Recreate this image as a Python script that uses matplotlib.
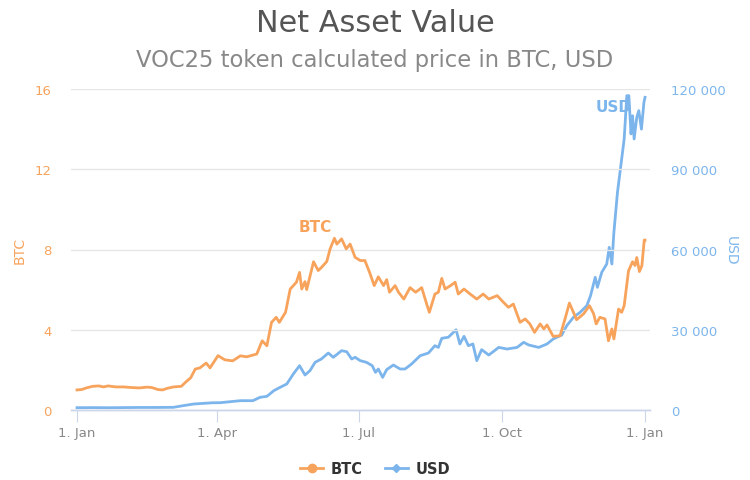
import matplotlib
matplotlib.use("Agg")
import matplotlib.pyplot as plt
from matplotlib.lines import Line2D
import pandas as pd

start_date = "2017-01-01"

# BTC series: day offset from start_date, value in BTC
btc_days = [0, 3, 6, 10, 14, 17, 20, 25, 30, 35, 40, 45, 48, 52, 55, 58, 62, 67, 70, 73, 76, 79, 83, 85.5,
            90.6, 95, 100, 105, 109, 115.5, 119, 122, 125, 128, 130, 134, 137, 141, 143, 144.4, 146.5, 147.6,
            152, 155, 157, 160.5, 162.6, 165.4, 167, 170, 173, 175.5, 178.7, 182, 185, 188, 191, 193.6, 197,
            199, 200.8, 204.4, 206.6, 210, 214, 217.6, 221.5, 224.7, 226.4, 230, 232.2, 234.4, 236.5, 240,
            243, 245, 248.7, 252.6, 256.9, 261, 264.6, 270, 274, 277.2, 280.4, 284.7, 288, 291, 294, 297.6,
            300, 302, 306, 310.4, 313.6, 316.4, 319, 321, 325.5, 329.3, 332, 333.6, 336, 339.3, 341.5, 343.7,
            345, 348, 350, 351.6, 354.4, 357, 358.6, 359.7, 361.4, 363, 364.5, 365]
btc_values = [1.0, 1.02, 1.1, 1.18, 1.2, 1.15, 1.2, 1.15, 1.15, 1.12, 1.1, 1.14, 1.12, 1.02, 1.0, 1.08, 1.15,
              1.18, 1.4, 1.6, 2.04, 2.1, 2.34, 2.1,
              2.71, 2.5, 2.45, 2.7, 2.65, 2.79, 3.45, 3.2, 4.37, 4.62, 4.37, 4.87, 6.03, 6.37, 6.86, 6.03, 6.4,
              6.0, 7.39, 6.95, 7.1, 7.4, 8.02, 8.56, 8.27, 8.53, 8.03, 8.27, 7.61, 7.45, 7.45, 6.86, 6.2, 6.64,
              6.2, 6.5, 5.87, 6.2, 5.87, 5.53, 6.1, 5.87, 6.1, 5.28, 4.87, 5.78, 5.87, 6.56, 6.03, 6.2, 6.37,
              5.78, 6.03, 5.78, 5.53, 5.78, 5.53, 5.7, 5.37, 5.12, 5.28, 4.37, 4.54, 4.29, 3.87, 4.29, 4.04,
              4.24, 3.67, 3.7, 4.54, 5.33, 4.87, 4.5, 4.79, 5.2, 4.79, 4.29, 4.62, 4.54, 3.45, 4.04, 3.54, 5.03,
              4.87, 5.2, 6.94, 7.39, 7.2, 7.6, 6.9, 7.2, 8.47, 8.47]

# USD series: day offset from start_date, value in USD
usd_days = [0, 10, 20, 30, 40, 50, 62, 68, 75, 87, 92, 105, 113, 117.6, 122, 126.5, 130.5, 134.8, 139, 143,
            146.5, 149.7, 153, 157, 161.5, 164.7, 170, 173.3, 176.5, 178.7, 182, 186, 189.7, 191.8, 193.6,
            196.4, 199, 203.3, 207.6, 210.8, 215, 220.5, 225.8, 230, 232.2, 234.4, 238.6, 243.6, 246, 248.7,
            251.5, 254.4, 256.9, 260, 264.6, 271, 276.4, 282.8, 287, 290.3, 296.7, 302, 306, 311.5, 314.7,
            319, 323.3, 327.6, 330, 333, 334.4, 337.2, 340.4, 342, 343.7, 345, 347.3, 350, 351.6, 353.3,
            354.6, 356, 357, 358, 359.7, 361, 362.7, 364.3, 365]
usd_values = [860, 900, 850, 900, 950, 950, 1000, 1600, 2240, 2700, 2730, 3480, 3480, 4740, 5100, 7230, 8470,
              9720, 13460, 16570, 13080, 14700, 17830, 19060, 21300, 19700, 22170, 21800, 19060, 19700, 18440,
              17830, 16570, 14080, 15330, 12200, 15100, 16820, 15330, 15330, 17200, 20300, 21300, 24040, 23400,
              26800, 27200, 30000, 24670, 27540, 24040, 24670, 18440, 22560, 20550, 23400, 22800, 23400, 25300,
              24300, 23400, 24670, 26540, 28040, 31520, 34650, 36520, 39000, 42740, 49600, 45860, 51470, 54580,
              60820, 54580, 66430, 81380, 93830, 101300, 117500, 117500, 103200, 110000, 101300, 109400, 111900,
              105000, 115000, 116900]

btc_ticks = [0, 4, 8, 12, 16]
usd_ticks = [0, 30000, 60000, 90000, 120000]
x_tick_dates = ["2017-01-01", "2017-04-01", "2017-07-01", "2017-10-01", "2018-01-01"]
x_tick_labels = ["1. Jan", "1. Apr", "1. Jul", "1. Oct", "1. Jan"]

ORANGE = "#f7a35c"
BLUE = "#7cb5ec"
GRID = "#e6e6e6"
AXIS = "#ccd6eb"

plt.rcParams['font.family'] = ['DejaVu Sans']

t0 = pd.Timestamp(start_date)
btc_x = t0 + pd.to_timedelta(btc_days, unit="D")
usd_x = t0 + pd.to_timedelta(usd_days, unit="D")

fig = plt.figure(figsize=(7.5, 4.81), dpi=100)
ax = fig.add_axes([71 / 750, 70 / 481, 579 / 750, 321 / 481])
ax2 = ax.twinx()

ax2.plot(usd_x, usd_values, color=BLUE, lw=2.0, solid_joinstyle="round", zorder=3)
ax.plot(btc_x, btc_values, color=ORANGE, lw=2.0, solid_joinstyle="round", zorder=3)
ax.set_zorder(ax2.get_zorder() + 1)
ax.patch.set_visible(False)

ax.set_xlim(t0 - pd.Timedelta(days=3.86), t0 + pd.Timedelta(days=368.2))
ax.set_ylim(0, 16)
ax2.set_ylim(0, 120000)

ax.set_yticks(btc_ticks)
ax2.set_yticks(usd_ticks)
ax2.set_yticklabels([f"{v:,}".replace(",", " ") for v in usd_ticks])
ax.set_xticks([pd.Timestamp(d) for d in x_tick_dates])
ax.set_xticklabels(x_tick_labels)

ax.grid(axis="y", color=GRID, lw=1)
ax.set_axisbelow(True)
for a in (ax, ax2):
    for s in ("top", "left", "right"):
        a.spines[s].set_visible(False)
    a.spines["bottom"].set_color(AXIS)
    a.spines["bottom"].set_linewidth(1)

ax.tick_params(axis="y", length=0, labelcolor=ORANGE, labelsize=9.5, pad=14)
ax2.tick_params(axis="y", length=0, labelcolor=BLUE, labelsize=9.5, pad=15)
ax.tick_params(axis="x", length=8.5, color=AXIS, labelcolor="#888888", labelsize=9.5, pad=3)
ax2.tick_params(axis="x", length=0)

ax.set_ylabel("BTC", color=ORANGE, fontsize=10, labelpad=6)
ax2.set_ylabel("USD", color=BLUE, fontsize=10, rotation=270, labelpad=9)

fig.text(0.5, 1 - 23 / 481, "Net Asset Value", ha="center", va="center", fontsize=21.8, color="#555555")
fig.text(0.5, 1 - 61 / 481, "VOC25 token calculated price in BTC, USD", ha="center", va="center",
         fontsize=16.3, color="#888888")

ax.text((315 - 71) / 579, (411 - 227) / 321, "BTC", transform=ax.transAxes, ha="center", va="center",
        color=ORANGE, fontsize=11, fontweight="bold")
ax2.text((614 - 71) / 579, (411 - 107) / 321, "USD", transform=ax2.transAxes, ha="center", va="center",
         color=BLUE, fontsize=11, fontweight="bold", zorder=2)

handles = [Line2D([], [], color=ORANGE, lw=2, marker="o", markersize=6),
           Line2D([], [], color=BLUE, lw=2, marker="D", markersize=4.5)]
leg = fig.legend(handles, ["BTC", "USD"], loc="center", bbox_to_anchor=(0.5, 1 - 470 / 481), ncol=2,
                 frameon=False, handlelength=1.6, columnspacing=1.5, handletextpad=0.5,
                 prop={"weight": "bold", "size": 10.5})
for t in leg.get_texts():
    t.set_color("#333333")

fig.savefig("out.png", dpi=100)
